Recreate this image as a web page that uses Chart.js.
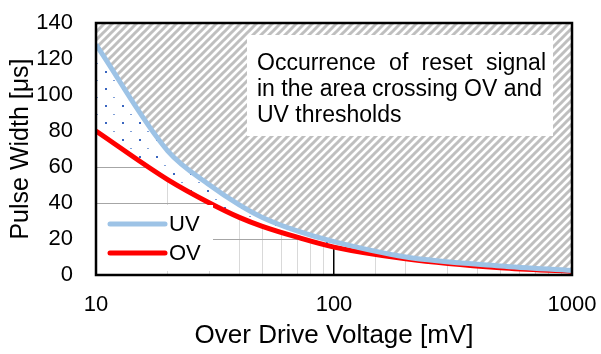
<!DOCTYPE html>
<html>
<head>
<meta charset="utf-8">
<script src="https://cdn.jsdelivr.net/npm/chart.js@4.4.1/dist/chart.umd.min.js"></script>
<style>
  body { margin: 0; background: #fff; }
  #wrap { width: 601px; height: 354px; }
</style>
</head>
<body>
<div id="wrap"><canvas id="pulseChart"></canvas></div>
<script>
  // overdrive voltage [mV] and detection pulse width [us]
  const overdrive = [10, 20, 30, 40, 50, 70, 100, 200, 500, 1000];
  const uvWidth = [128, 69, 50, 39, 32, 24.5, 18.5, 10, 5, 2.5];
  const ovWidth = [80, 53, 40, 32, 27, 21, 15.5, 9, 4, 2];
  const xTickLabels = [10, 100, 1000];
  const noteLines = ['Occurrence of reset signal', 'in the area crossing OV and', 'UV thresholds'];

  const FONT = '"Liberation Sans", Arial, sans-serif';
  Chart.defaults.font.family = FONT;
  Chart.defaults.color = '#000';

  function hatchPattern() {
    const c = document.createElement('canvas');
    c.width = 8; c.height = 8;
    const g = c.getContext('2d');
    g.fillStyle = '#fff';
    g.fillRect(0, 0, 8, 8);
    g.strokeStyle = '#bfbfbf';
    g.lineWidth = 3;
    g.beginPath();
    g.moveTo(-2, 10); g.lineTo(10, -2);
    g.moveTo(-6, 6); g.lineTo(6, -6);
    g.moveTo(2, 14); g.lineTo(14, 2);
    g.stroke();
    return g.createPattern(c, 'repeat');
  }

  function dotPattern() {
    const c = document.createElement('canvas');
    c.width = 17; c.height = 17;
    const g = c.getContext('2d');
    g.fillStyle = '#fff';
    g.fillRect(0, 0, 17, 17);
    g.fillStyle = '#3a66c0';
    g.fillRect(3, 3, 2, 2);
    g.fillStyle = '#7f9fd8';
    g.fillRect(11, 12, 2, 1);
    return g.createPattern(c, 'repeat');
  }

  const toPoints = ys => overdrive.map((x, i) => ({ x: x, y: ys[i] }));

  // legend, note box and plot frame
  const decorations = {
    id: 'decorations',
    afterDatasetsDraw(chart) {
      const ctx = chart.ctx;
      const a = chart.chartArea;
      ctx.save();

      // legend in lower left corner
      ctx.fillStyle = '#fff';
      ctx.fillRect(a.left + 1, a.bottom - 70, 116, 66);
      const items = chart.data.datasets.filter(d => d.label);
      items.forEach((d, i) => {
        const y = a.bottom - 51 + i * 29;
        ctx.strokeStyle = d.borderColor;
        ctx.lineWidth = 5;
        ctx.lineCap = 'round';
        ctx.beginPath();
        ctx.moveTo(a.left + 14, y);
        ctx.lineTo(a.left + 69, y);
        ctx.stroke();
        ctx.fillStyle = '#000';
        ctx.font = '22px ' + FONT;
        ctx.textBaseline = 'middle';
        ctx.textAlign = 'left';
        ctx.fillText(d.label, a.left + 73, y + 1);
      });

      // note box
      const bx = a.left + 151, by = a.top + 12, bw = 306, bh = 101;
      ctx.fillStyle = '#fff';
      ctx.fillRect(bx, by, bw, bh);
      ctx.fillStyle = '#000';
      ctx.font = '23px ' + FONT;
      ctx.textBaseline = 'alphabetic';
      const left = bx + 10, right = bx + bw - 7;
      noteLines.forEach((line, i) => {
        const y = by + 35 + i * 26;
        if (i === 0) {
          const words = line.split(' ');
          const wsum = words.reduce((s, w) => s + ctx.measureText(w).width, 0);
          const gap = (right - left - wsum) / (words.length - 1);
          let x = left;
          words.forEach(w => {
            ctx.fillText(w, x, y);
            x += ctx.measureText(w).width + gap;
          });
        } else {
          ctx.fillText(line, left, y);
        }
      });
      ctx.restore();
    },
    afterDraw(chart) {
      const ctx = chart.ctx;
      const a = chart.chartArea;
      ctx.save();
      ctx.strokeStyle = '#000';
      ctx.lineWidth = 2.5;
      ctx.strokeRect(a.left, a.top, a.right - a.left, a.bottom - a.top);
      ctx.restore();
    }
  };

  const ctx = document.getElementById('pulseChart').getContext('2d');

  const pulseChart = new Chart(ctx, {
    type: 'line',
    data: {
      datasets: [
        {
          label: 'UV',
          data: toPoints(uvWidth),
          borderColor: '#9dc3e6',
          borderWidth: 5,
          pointRadius: 0,
          cubicInterpolationMode: 'monotone',
          fill: false
        },
        {
          label: 'OV',
          data: toPoints(ovWidth),
          borderColor: '#ff0000',
          borderWidth: 5,
          pointRadius: 0,
          cubicInterpolationMode: 'monotone',
          fill: false
        },
        {
          // area between the two thresholds
          data: toPoints(uvWidth),
          borderWidth: 0,
          pointRadius: 0,
          cubicInterpolationMode: 'monotone',
          backgroundColor: dotPattern(),
          fill: 1
        },
        {
          // area above the UV threshold
          data: toPoints(uvWidth),
          borderWidth: 0,
          pointRadius: 0,
          cubicInterpolationMode: 'monotone',
          backgroundColor: hatchPattern(),
          fill: 'end'
        }
      ]
    },
    options: {
      responsive: true,
      maintainAspectRatio: false,
      animation: false,
      layout: { padding: { top: 23, right: 29, left: 0, bottom: 0 } },
      plugins: {
        legend: { display: false },
        tooltip: { enabled: false }
      },
      scales: {
        x: {
          type: 'logarithmic',
          min: 10,
          max: 1000,
          border: { color: '#000', width: 2 },
          grid: {
            drawTicks: false,
            color: c => (c.tick && Math.round(c.tick.value) === 100 ? '#000' : '#d9d9d9'),
            lineWidth: c => (c.tick && Math.round(c.tick.value) === 100 ? 1.5 : 1)
          },
          ticks: {
            autoSkip: false,
            maxRotation: 0,
            padding: 17,
            font: { size: 22 },
            callback: value => (xTickLabels.includes(Math.round(value)) ? String(Math.round(value)) : '')
          },
          title: {
            display: true,
            text: 'Over Drive Voltage [mV]',
            font: { size: 26 },
            padding: { top: 0, bottom: 3 }
          },
          afterFit: s => { s.height = 79; s.paddingLeft = 0; s.paddingRight = 0; }
        },
        y: {
          min: 0,
          max: 140,
          border: { color: '#000', width: 2 },
          grid: { drawTicks: false, color: '#a6a6a6' },
          ticks: {
            stepSize: 20,
            padding: 23,
            font: { size: 22 }
          },
          title: {
            display: true,
            text: 'Pulse Width [μs]',
            font: { size: 25 },
            padding: { top: 6, bottom: 0 }
          },
          afterFit: s => { s.width = 96; s.paddingTop = 0; s.paddingBottom = 0; }
        }
      }
    },
    plugins: [decorations]
  });
</script>
</body>
</html>
